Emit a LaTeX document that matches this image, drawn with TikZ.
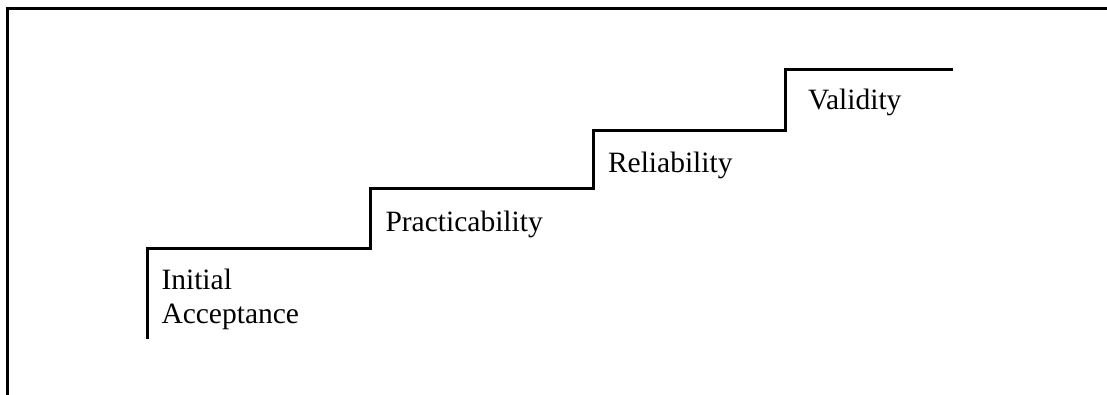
\documentclass[tikz,border=0pt]{standalone}
\usepackage{fontspec}
\setmainfont{Liberation Serif}
\begin{document}
\begin{tikzpicture}[x=1pt,y=-1pt,
  frameline/.style={line width=3.4pt},
  stairline/.style={line width=3pt},
  label/.style={anchor=base west,inner sep=0pt,outer sep=0pt,font=\fontsize{29.5}{34}\selectfont,align=left}]
\useasboundingbox (0,0) rectangle (1107,395);
\draw[frameline] (7.3,395) -- (7.3,8.5) -- (1107,8.5);
\draw[stairline] (147,339) -- (147,248) -- (370,248) -- (370,189) -- (593,189) -- (593,131) -- (785,131) -- (785,70) -- (953,70);
\node[label] (init) at (161.5,323) {Initial\\Acceptance};
\node[label] (prac) at (385.5,232) {Practicability};
\node[label] (rel) at (608,173) {Reliability};
\node[label] (val) at (808,110) {Validity};
\end{tikzpicture}
\end{document}
